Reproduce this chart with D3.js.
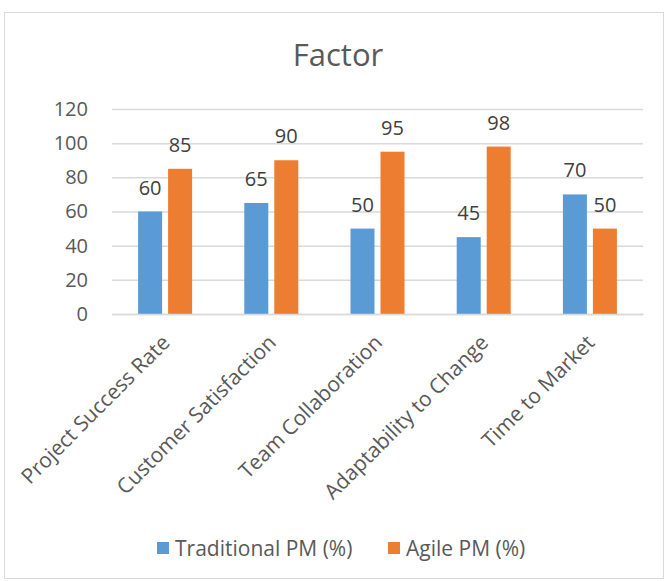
<!DOCTYPE html>
<html><head><meta charset="utf-8">
<script src="https://cdn.jsdelivr.net/npm/d3@7"></script>
<style>
html,body{margin:0;padding:0;background:#fff;}
text{font-family:"Open Sans",sans-serif;}
</style></head>
<body><svg id="c" width="665" height="581"></svg>
<script>
const categories = ["Project Success Rate","Customer Satisfaction","Team Collaboration","Adaptability to Change","Time to Market"];
const traditional = [60,65,50,45,70];
const agile = [85,90,95,98,50];
const seriesNames = ["Traditional PM (%)","Agile PM (%)"];
const yTicks = [0,20,40,60,80,100,120];
const colors = ["#5B9BD5","#ED7D31"];
const FONT = "'Open Sans',sans-serif";

const svg = d3.select("#c");
svg.append("rect").attr("x",4.5).attr("y",12.5).attr("width",659).attr("height",566)
  .attr("fill","#fff").attr("stroke","#D9D9D9").attr("stroke-width",1);

const L=112, R=643, T=109, B=314;
const x = d3.scaleBand().domain(categories).range([L,R]);
const y = d3.scaleLinear().domain([0,120]).range([B,T]);
const barW = 24, gap = 6;

svg.append("text").attr("x",338).attr("y",66).attr("text-anchor","middle")
  .attr("font-size",31).attr("fill","#595959").text("Factor");

// gridlines
const yAxis = d3.axisLeft(y).tickValues(yTicks).tickSize(-(R-L)).tickPadding(24);
const ga = svg.append("g").attr("transform",`translate(${L},0)`).call(yAxis);
ga.select(".domain").remove();
ga.selectAll(".tick line").attr("stroke","#D9D9D9").attr("stroke-width",1.5);
ga.selectAll(".tick text").attr("font-size",20).attr("fill","#595959")
  .attr("font-family",FONT);

const data = categories.map((c,i)=>({c, v:[traditional[i],agile[i]]}));
data.forEach(d=>{
  const cx = x(d.c)+x.bandwidth()/2;
  d.v.forEach((v,j)=>{
    const bx = j===0 ? cx-gap/2-barW : cx+gap/2;
    svg.append("rect").attr("x",bx).attr("y",y(v)).attr("width",barW).attr("height",y(0)-y(v))
      .attr("fill",colors[j]);
    svg.append("text").attr("x",bx+barW/2).attr("y",y(v)-17).attr("text-anchor","middle")
      .attr("font-size",20).attr("fill","#404040").text(v);
  });
});

// x axis
const xAxis = d3.axisBottom(x).tickSize(0).tickPadding(0);
const gx = svg.append("g").attr("transform",`translate(0,${B})`).call(xAxis);
gx.select(".domain").attr("stroke","#D9D9D9").attr("stroke-width",1.5);
gx.selectAll(".tick text").attr("font-size",21).attr("fill","#595959")
  .attr("font-family",FONT)
  .attr("text-anchor","end").attr("dy",0)
  .attr("transform","translate(6,30) rotate(-45)");

// legend
const leg = [{n:seriesNames[0],x:157},{n:seriesNames[1],x:388}];
leg.forEach((l,i)=>{
  svg.append("rect").attr("x",l.x).attr("y",542).attr("width",12).attr("height",12).attr("fill",colors[i]);
  svg.append("text").attr("x",l.x+18).attr("y",556).attr("font-size",21).attr("fill","#595959").text(l.n);
});
</script></body></html>
